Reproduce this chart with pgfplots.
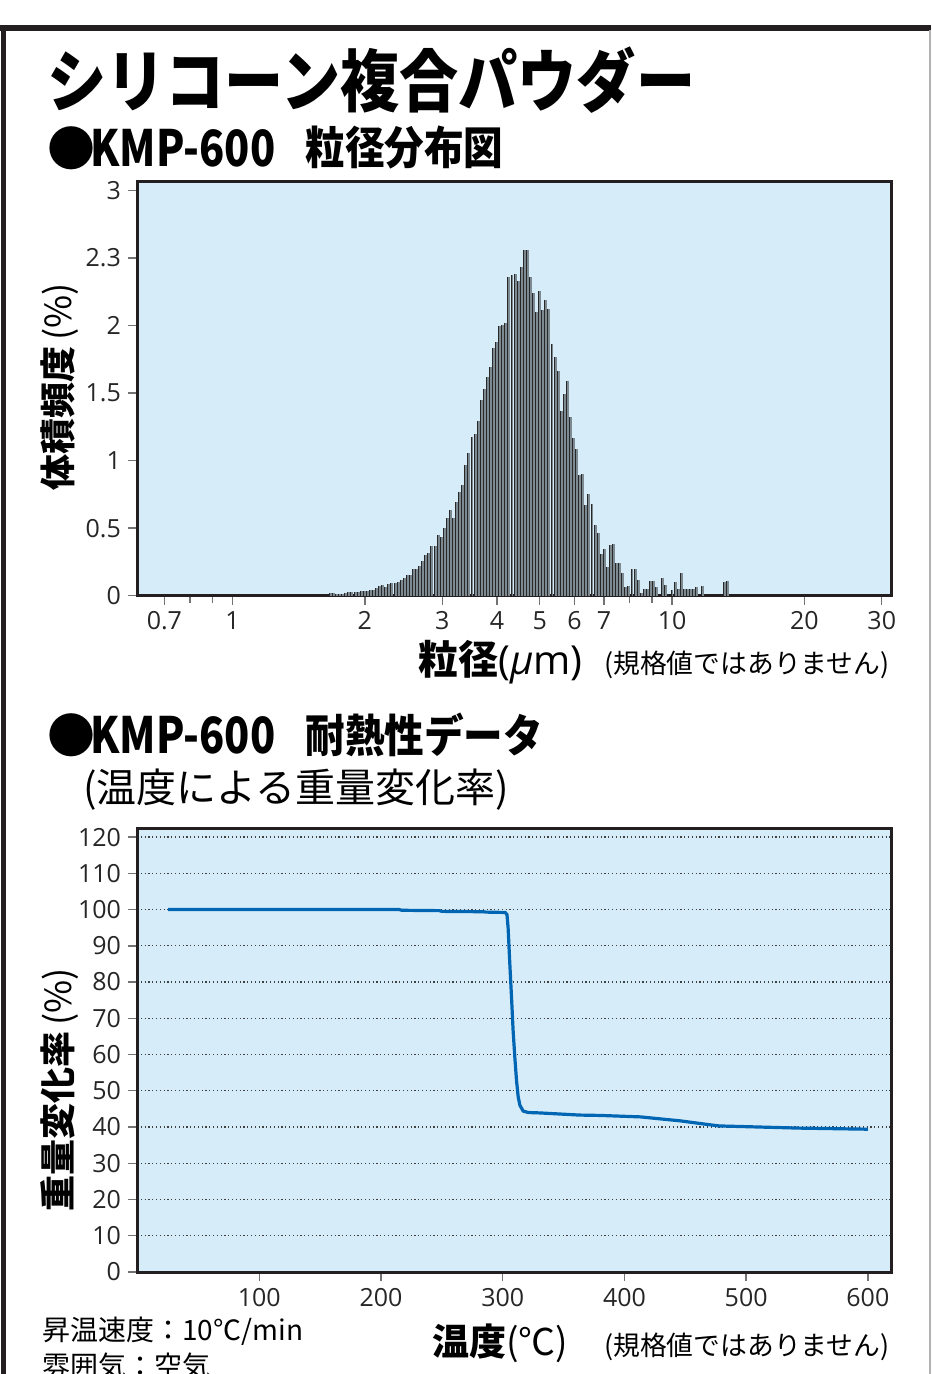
\documentclass[border=0pt]{standalone}
\usepackage{fontspec}
\usepackage{pgfplots}
\pgfplotsset{compat=1.18}
\usepackage{pgfplotstable}
\setmainfont{Open Sans}
\newfontfamily\jp{Noto Sans CJK JP}
\newfontfamily\jpc[FakeStretch=0.87]{Noto Sans CJK JP}
\newfontfamily\jph[FakeStretch=0.88]{Noto Sans CJK JP}
\newfontfamily\jpk[FakeStretch=0.83]{Noto Sans CJK JP}
\definecolor{bgblue}{RGB}{214,236,249}
\definecolor{frame}{RGB}{35,31,32}
\definecolor{curve}{RGB}{0,101,179}
\definecolor{bardark}{RGB}{40,40,40}
\definecolor{bargray}{RGB}{125,138,146}

% particle size distribution: one bar per size channel (log-uniform channels,
% channel 0 = 1.66 um, about 143 channels per decade)
\pgfplotstableread{
h
0.017
0.017
0.012
0.012
0.015
0.017
0.025
0.025
0.025
0.027
0.035
0.035
0.037
0.040
0.041
0.060
0.069
0.078
0.065
0.086
0.092
0.096
0.104
0.114
0.128
0.150
0.153
0.201
0.201
0.220
0.255
0.299
0.318
0.369
0.370
0.446
0.431
0.503
0.573
0.635
0.573
0.696
0.770
0.822
0.968
1.054
1.178
1.195
1.296
1.449
1.531
1.622
1.693
1.835
1.881
1.995
2.002
2.022
2.358
2.374
2.382
2.333
2.437
2.560
2.560
2.358
2.240
2.099
2.257
2.116
2.190
2.123
1.862
1.765
1.667
1.366
1.490
1.590
1.323
1.170
1.088
0.897
0.903
0.675
0.755
0.681
0.527
0.465
0.307
0.348
0.213
0.372
0.380
0.245
0.242
0.169
0.062
0.071
0.195
0.200
0.113
0.022
0.051
0.051
0.106
0.110
0.064
0
0.130
0.076
0
0.040
0.098
0.046
0.171
0.051
0.051
0.051
0.051
0.068
0
0.069
0
0
0
0
0
0
0.104
0.111
}\psd

\begin{document}
\begin{tikzpicture}
\path[use as bounding box] (0,0) rectangle (465.5pt,-687pt);

\begin{scope}[x=0.5pt,y=-0.5pt]
% frame
\draw[frame, line width=2.8pt] (0,28) -- (931,28);
\draw[frame, line width=2.5pt] (3.5,26.6) -- (3.5,1374);
\draw[black!30, line width=0.6pt] (930,30) -- (930,1374);
% titles
\node[anchor=west, inner sep=0] at (47,80) {\jpc\bfseries\fontsize{34}{40}\selectfont シリコーン複合パウダー};
\node[anchor=west, inner sep=0] at (47,148) {\jp\fontsize{24}{28}\selectfont ●};
\node[anchor=west, inner sep=0] at (90,148) {\jpk\bfseries\fontsize{25}{30}\selectfont KMP-600};
\node[anchor=west, inner sep=0] at (305,148) {\jph\bfseries\fontsize{22.5}{26}\selectfont 粒径分布図};
\node[anchor=west, inner sep=0] at (47,735) {\jp\fontsize{24}{28}\selectfont ●};
\node[anchor=west, inner sep=0] at (90,735) {\jpk\bfseries\fontsize{25}{30}\selectfont KMP-600};
\node[anchor=west, inner sep=0] at (305,735) {\jph\bfseries\fontsize{22.5}{26}\selectfont 耐熱性データ};
\node[anchor=west, inner sep=0] at (83,790) {\jp\fontsize{20}{24}\selectfont (温度による重量変化率)};
% axis labels
\node[rotate=90, inner sep=0] at (60,387) {\jp\fontsize{18}{22}\selectfont\textbf{体積頻度}\,(\%)};
\node[rotate=90, inner sep=0] at (60,1090) {\jp\fontsize{18}{22}\selectfont\textbf{重量変化率}\,(\%)};
\node[anchor=west, inner sep=0] at (418,662) {\jp\fontsize{20}{24}\selectfont\textbf{粒径}{\rmfamily(\textit{μ}m)}};
\node[anchor=east, inner sep=0] at (890,665) {\jp\fontsize{13.4}{16}\selectfont (規格値ではありません)};
\node[anchor=west, inner sep=0] at (432,1343) {\jp\fontsize{18.5}{22}\selectfont\textbf{温度}(℃)};
\node[anchor=east, inner sep=0] at (890,1347) {\jp\fontsize{13.4}{16}\selectfont (規格値ではありません)};
\node[anchor=west, inner sep=0] at (42,1331) {\jp\fontsize{14}{17}\selectfont 昇温速度：10℃/min};
\node[anchor=west, inner sep=0] at (42,1366) {\jp\fontsize{14}{17}\selectfont 雰囲気：空気};
\end{scope}

% ---------- particle size distribution ----------
\begin{axis}[
  at={(68.5pt,-297.85pt)}, anchor=south west,
  scale only axis, width=377pt, height=207.35pt,
  xmin=-62.72, xmax=182.3, ymin=0, ymax=3.07,
  axis background/.style={fill=bgblue},
  axis line style={frame, line width=1.5pt},
  tick align=outside, xtick pos=left, ytick pos=left,
  major tick length=4.5pt, minor tick length=3.5pt,
  every tick/.style={black!55, line width=0.7pt},
  xtick={-53.81,-31.69,11.31,36.46,54.31,68.15,79.46,89.02,111.15,154.15,179.30},
  xticklabels={0.7,1,2,3,4,5,6,7,10,20,30},
  minor xtick={-45.53,-38.22,97.31,104.61},
  ytick={0,0.5,1,1.5,2,2.5,3},
  yticklabels={0,0.5,1,1.5,2,2.3,3},
  tick label style={font=\fontsize{12.5}{15}\selectfont, text=black!85},
]
\addplot[ycomb, bargray, line width=1.1pt, mark=none] table[x expr=\coordindex+0.25, y=h]{\psd};
\addplot[ycomb, bardark, line width=0.45pt, mark=none] table[x expr=\coordindex-0.2, y=h]{\psd};
\end{axis}

% ---------- weight change vs temperature ----------
\begin{axis}[
  at={(68.5pt,-636pt)}, anchor=south west,
  scale only axis, width=377pt, height=222pt,
  xmin=-0.5, xmax=619, ymin=0, ymax=122.5,
  axis background/.style={fill=bgblue},
  axis line style={frame, line width=1.5pt},
  tick align=outside, xtick pos=left, ytick pos=left,
  major tick length=4.5pt,
  every tick/.style={black!55, line width=0.7pt},
  xtick={100,200,300,400,500,600},
  ytick={0,10,20,30,40,50,60,70,80,90,100,110,120},
  ymajorgrids,
  grid style={black!75, line width=0.65pt, dash pattern=on 0.6pt off 1.3pt},
  /pgf/number format/assume math mode=true,
  tick label style={font=\fontsize{12.5}{15}\selectfont, text=black!85},
]
\addplot[curve, line width=1.6pt, mark=none] coordinates {
(25,100.0) (100,100.0) (215,100.0) (217,99.8) (248,99.7) (250,99.5)
(284,99.4) (286,99.3) (302,99.2) (303.5,98.6) (304.4,95.0) (305.8,85.1)
(307.2,75.9) (308.5,66.7) (309.9,59.4) (311.3,52.9) (312.7,48.3)
(314.1,46.0) (316.8,44.4) (320.9,44.0) (330,43.9) (352,43.5) (363,43.3)
(380,43.2) (413,42.8) (446,41.7) (466,40.8) (478,40.3) (511,40.0)
(544,39.7) (600,39.4)
};
\end{axis}
\end{tikzpicture}
\end{document}
